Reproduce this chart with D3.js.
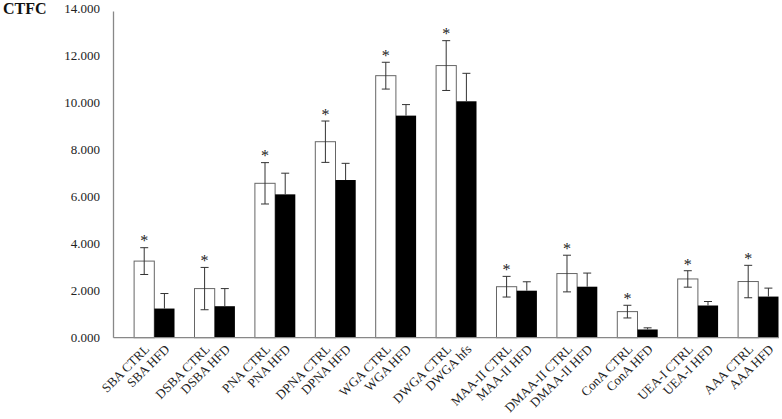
<!DOCTYPE html>
<html>
<head>
<meta charset="utf-8">
<script src="https://cdn.jsdelivr.net/npm/d3@7"></script>
<style>
  html, body { margin: 0; padding: 0; background: #fff; }
  svg { display: block; }
  text { font-family: "Liberation Serif", "Times New Roman", serif; }
</style>
</head>
<body>
<svg id="chart" width="782" height="419"></svg>
<script>
const groups = ["SBA", "DSBA", "PNA", "DPNA", "WGA", "DWGA", "MAA-II", "DMAA-II", "ConA", "UEA-I", "AAA"];
const ctrlLabels = ["SBA CTRL", "DSBA CTRL", "PNA CTRL", "DPNA CTRL", "WGA CTRL", "DWGA CTRL", "MAA-II CTRL", "DMAA-II CTRL", "ConA CTRL", "UEA-I CTRL", "AAA CTRL"];
const hfdLabels = ["SBA HFD", "DSBA HFD", "PNA HFD", "DPNA HFD", "WGA HFD", "DWGA hfs", "MAA-II HFD", "DMAA-II HFD", "ConA HFD", "UEA-I HFD", "AAA HFD"];
const ctrlValues = [3.26, 2.09, 6.57, 8.34, 11.15, 11.58, 2.17, 2.73, 1.11, 2.50, 2.39];
const ctrlErr    = [0.57, 0.90, 0.88, 0.88, 0.57, 1.06, 0.44, 0.78, 0.27, 0.35, 0.69];
const hfdValues  = [1.24, 1.34, 6.10, 6.71, 9.45, 10.06, 2.00, 2.17, 0.35, 1.37, 1.75];
const hfdErr     = [0.64, 0.75, 0.90, 0.71, 0.47, 1.19, 0.38, 0.58, 0.07, 0.17, 0.36];
const significant = [true, true, true, true, true, true, true, true, true, true, true];
const yTicks = [0, 2, 4, 6, 8, 10, 12, 14];
const yTitle = "CTFC";

const svg = d3.select("#chart");
const axisX = 113.5, baseY = 337.7, topY = 8.7, rightX = 779;

const y = d3.scaleLinear().domain([0, 14]).range([baseY, topY]);
const x0 = d3.scaleBand().domain(groups).range([124.1, 788.5]).paddingInner(0.331).paddingOuter(0.1656);
const x1 = d3.scaleBand().domain(["ctrl", "hfd"]).range([0, x0.bandwidth()]);

// y tick labels (no tick marks)
svg.append("g").selectAll("text").data(yTicks).join("text")
  .attr("x", 100).attr("y", d => y(d)).attr("dy", "0.35em")
  .attr("text-anchor", "end").attr("font-size", 13).attr("fill", "#222")
  .text(d => d3.format(".3f")(d));

svg.append("text").attr("x", 3).attr("y", 14)
  .attr("font-size", 16).attr("font-weight", "bold").attr("fill", "#111")
  .text(yTitle);

const rows = groups.map((g, i) => ({
  g, i,
  ctrl: ctrlValues[i], ce: ctrlErr[i],
  hfd: hfdValues[i], he: hfdErr[i],
  sig: significant[i]
}));

const gg = svg.append("g").selectAll("g").data(rows).join("g")
  .attr("transform", d => `translate(${x0(d.g)},0)`);

// CTRL bars
gg.append("rect")
  .attr("x", x1("ctrl")).attr("width", x1.bandwidth())
  .attr("y", d => y(d.ctrl)).attr("height", d => y(0) - y(d.ctrl))
  .attr("fill", "#fff").attr("stroke", "#666").attr("stroke-width", 1);

// HFD bars
gg.append("rect")
  .attr("x", x1("hfd")).attr("width", x1.bandwidth())
  .attr("y", d => y(d.hfd)).attr("height", d => y(0) - y(d.hfd))
  .attr("fill", "#000");

const cap = 4;
gg.each(function(d) {
  const g = d3.select(this);
  const cx = x1("ctrl") + x1.bandwidth() / 2;
  const hi = y(d.ctrl + d.ce), lo = y(d.ctrl - d.ce);
  g.append("line").attr("x1", cx).attr("x2", cx).attr("y1", hi).attr("y2", lo).attr("stroke", "#333");
  g.append("line").attr("x1", cx - cap).attr("x2", cx + cap).attr("y1", hi).attr("y2", hi).attr("stroke", "#333");
  g.append("line").attr("x1", cx - cap).attr("x2", cx + cap).attr("y1", lo).attr("y2", lo).attr("stroke", "#333");
  if (d.sig) {
    g.append("text").attr("x", cx).attr("y", hi - 10).attr("text-anchor", "middle")
      .attr("font-size", 16).attr("fill", "#222").attr("dy", "0.55em")
      .text("*");
  }
  const hx = x1("hfd") + x1.bandwidth() / 2;
  const hh = y(d.hfd + d.he), hb = y(d.hfd);
  g.append("line").attr("x1", hx).attr("x2", hx).attr("y1", hh).attr("y2", hb).attr("stroke", "#333");
  g.append("line").attr("x1", hx - cap).attr("x2", hx + cap).attr("y1", hh).attr("y2", hh).attr("stroke", "#333");
});

// axes lines
svg.append("line").attr("x1", axisX).attr("x2", axisX).attr("y1", 11.5).attr("y2", baseY)
  .attr("stroke", "#888").attr("stroke-width", 1.3);
svg.append("line").attr("x1", axisX).attr("x2", rightX).attr("y1", baseY).attr("y2", baseY)
  .attr("stroke", "#888").attr("stroke-width", 1.3);

// x labels
const labY = 350;
gg.append("text")
  .attr("transform", d => `translate(${x1("ctrl") + x1.bandwidth() / 2 + 6},${labY}) rotate(-45)`)
  .attr("text-anchor", "end").attr("font-size", 13).attr("fill", "#222")
  .text(d => ctrlLabels[d.i]);
gg.append("text")
  .attr("transform", d => `translate(${x1("hfd") + x1.bandwidth() / 2 + 6},${labY}) rotate(-45)`)
  .attr("text-anchor", "end").attr("font-size", 13).attr("fill", "#222")
  .text(d => hfdLabels[d.i]);
</script>
</body>
</html>
